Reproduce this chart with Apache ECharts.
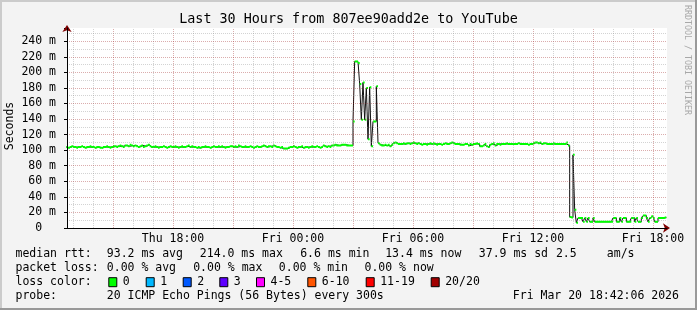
<!DOCTYPE html>
<html><head><meta charset="utf-8">
<script src="https://cdn.jsdelivr.net/npm/echarts@6/dist/echarts.min.js"></script>
<style>html,body{margin:0;padding:0;background:#f3f3f3}#c{width:697px;height:310px}</style>
</head><body><div id="c"></div>
<script>
// ---------------- data ----------------
const chartTitle = 'Last 30 Hours from 807ee90add2e to YouTube';
const yAxisTitle = 'Seconds';
const watermark = 'RRDTOOL / TOBI OETIKER';
const dayNames = ['Thu', 'Fri'];
const xLabelHours = [18, 24, 30, 36, 42];        // hours since Thu 00:00
const axisStartHour = 12.7, axisEndHour = 42.7;  // Thu 12:42 .. Fri 18:42
const firstSampleHour = 12.75;                    // end of first 5-min sample
const stepMinutes = 5;
const yMin = 0, yMax = 257, yStep = 10, yLabelStep = 20;

// median RTT in ms, one value per 5-minute step
const medianRtt = [
 104,103,104,105,104,104,103,104,104,105,
 104,103,104,104,105,104,104,103,104,104,
 103,103,104,104,105,104,103,104,105,105,
 104,105,106,105,104,106,106,105,107,106,
 105,106,105,104,105,106,104,105,106,107,
 105,104,104,105,104,103,104,104,105,104,
 103,104,105,104,104,105,104,103,104,105,
 104,104,105,106,104,105,104,104,103,104,
 103,104,104,105,104,104,103,104,105,104,
 104,105,104,105,104,103,104,104,105,105,
 104,105,104,106,105,104,104,105,104,104,
 105,104,103,104,105,104,104,105,106,105,
 104,105,105,104,106,105,104,104,103,104,
 102,102,102,103,104,104,105,104,103,104,
 104,105,103,104,104,103,104,105,104,104,
 105,104,103,104,106,105,104,105,104,106,
 106,107,106,106,106,107,107,107,106,106,
 106,106,
 137,214,214,212,185,139,187,139,180,114,181,105,137,137,182,109,
 107,106,106,107,106,107,105,107,109,110,
 109,108,108,108,109,108,109,109,108,109,
 110,109,108,109,108,107,108,108,107,108,
 109,108,109,108,107,108,108,107,108,109,
 108,108,109,110,109,108,108,108,107,107,
 107,108,108,106,108,107,108,108,109,108,
 105,105,106,108,105,104,107,108,109,106,
 108,108,107,108,108,108,109,108,108,108,
 108,108,108,109,108,108,108,108,108,107,
 108,108,109,110,110,109,110,108,109,109,
 108,108,108,108,109,108,108,108,108,108,
 108,108,110,106,
 14,13.6,94,23.5,6.6,
 13,13,13,8,13,8,13,8,8,13,
 8,8,8,8,8,8,8,8,8,8,
 8,13,13,8,8,13,8,13,13,8,
 8,8,13,13,8,13,8,8,13,16,
 16,13,8,13,15,13,8,8,13,13,
 13,13,13.4
];

const rttLabel = 'median rtt:';
const rttStats = ['93.2 ms avg', '214.0 ms max', '6.6 ms min', '13.4 ms now', '37.9 ms sd', '2.5', 'am/s'];
const lossLabel = 'packet loss:';
const lossStats = ['0.00 % avg', '0.00 % max', '0.00 % min', '0.00 % now'];
const lossColorLabel = 'loss color:';
const lossClasses = ['0', '1', '2', '3', '4-5', '6-10', '11-19', '20/20'];
const lossColors = ['#00ff00', '#00b8ff', '#0059ff', '#5e00ff', '#ff00ff', '#ff5500', '#ff0000', '#a10000'];
const probeLabel = 'probe:';
const probeText = '20 ICMP Echo Pings (56 Bytes) every 300s';
const stampText = 'Fri Mar 20 18:42:06 2026';

// ---------------- layout / style ----------------
const MONO = '"DejaVu Sans Mono", monospace';
const FONT = '11.5px ' + MONO;
const GRID_GREY = 'rgba(140,140,140,0.38)';
const GRID_RED = 'rgba(160,40,40,0.38)';
const ARROW = '#7f0000';

const stepH = stepMinutes / 60;
const blackPts = [], greenPts = [];
medianRtt.forEach((v, i) => {
  const t1 = firstSampleHour + i * stepH, t0 = t1 - stepH;
  blackPts.push([t0, v], [t1, v]);
  greenPts.push([t0, v], [t1, v], [t1, '-']);
});
const minorV = [], majorV = [];
for (let h = Math.ceil(axisStartHour); h <= axisEndHour; h++) {
  (h % 3 === 0 ? majorV : minorV).push({ xAxis: h });
}
const hourLabel = h => dayNames[Math.floor(h / 24)] + ' ' + String(h % 24).padStart(2, '0') + ':00';

function txt(x, y, text, extra) {
  return { type: 'text', x: x, y: y, silent: true, z: 50,
    style: Object.assign({ text: text, font: FONT, fill: '#000', align: 'left', verticalAlign: 'middle' }, extra || {}) };
}
const graphics = [];
// frame
graphics.push({ type: 'rect', silent: true, z: 60, shape: { x: 0, y: 0, width: 697, height: 2 }, style: { fill: '#cbcbcb' } });
graphics.push({ type: 'rect', silent: true, z: 60, shape: { x: 0, y: 0, width: 2, height: 310 }, style: { fill: '#cbcbcb' } });
graphics.push({ type: 'rect', silent: true, z: 61, shape: { x: 0, y: 308, width: 697, height: 2 }, style: { fill: '#999999' } });
graphics.push({ type: 'rect', silent: true, z: 61, shape: { x: 695, y: 0, width: 2, height: 310 }, style: { fill: '#999999' } });
// title, axis title & watermark
graphics.push(txt(348.5, 20, chartTitle, { font: '13.4px ' + MONO, align: 'center' }));
graphics.push(Object.assign(txt(10.5, 126, yAxisTitle, { align: 'center' }), { rotation: Math.PI / 2 }));
graphics.push(Object.assign(txt(687, 60, watermark, { font: '8.3px ' + MONO, fill: '#a8a8a8', align: 'center' }), { rotation: -Math.PI / 2 }));
// legend rows
const rowY = [254.3, 268.3, 282.2, 295.8];
const rttX = [106.8, 199.8, 300.2, 385.2, 478.8, 555.9, 606.8];
const lossX = [106.8, 193.2, 278.8, 364.5];
const boxX = [108.3, 145.7, 182.7, 219.3, 256, 307.3, 365.7, 430.7];
graphics.push(txt(15.5, rowY[0], rttLabel));
rttStats.forEach((s, i) => graphics.push(txt(rttX[i], rowY[0], s)));
graphics.push(txt(15.5, rowY[1], lossLabel));
lossStats.forEach((s, i) => graphics.push(txt(lossX[i], rowY[1], s)));
graphics.push(txt(15.5, rowY[2], lossColorLabel));
lossClasses.forEach((s, i) => {
  graphics.push({ type: 'rect', silent: true, z: 50, shape: { x: boxX[i] + 0.5, y: rowY[2] - 4.5, width: 8, height: 9 },
    style: { fill: lossColors[i], stroke: '#000', lineWidth: 1 } });
  graphics.push(txt(boxX[i] + 14.5, rowY[2], s));
});
graphics.push(txt(15.5, rowY[3], probeLabel));
graphics.push(txt(106.8, rowY[3], probeText));
graphics.push(txt(512.8, rowY[3], stampText));

const markLineBase = { silent: true, symbol: ['none', 'none'], label: { show: false }, emphasis: { disabled: true }, animation: false };

const option = {
  backgroundColor: '#f3f3f3',
  animation: false,
  grid: { left: 67, top: 28, width: 600, height: 200, show: true, backgroundColor: '#ffffff', borderWidth: 0,
          containLabel: false, outerBoundsMode: 'none' },
  xAxis: [
    { type: 'value', min: axisStartHour, max: axisEndHour, z: 6,
      axisLine: { show: true, onZero: false, lineStyle: { color: '#000', width: 1 } },
      axisTick: { show: false }, splitLine: { show: false },
      axisLabel: { customValues: xLabelHours, formatter: hourLabel, margin: 5, color: '#000', fontFamily: MONO, fontSize: 11.5 } },
    { type: 'value', min: axisStartHour, max: axisEndHour, position: 'bottom', z: 5,
      axisLine: { show: true, onZero: false, symbol: ['none', 'arrow'], symbolSize: [7, 7], symbolOffset: [0, 3], lineStyle: { color: ARROW, width: 1 } },
      axisTick: { show: false }, splitLine: { show: false }, axisLabel: { show: false } }
  ],
  yAxis: [
    { type: 'value', min: yMin, max: yMax, interval: yStep, z: 6,
      axisLine: { show: true, onZero: false, lineStyle: { color: '#000', width: 1 } },
      axisTick: { show: false },
      axisLabel: { margin: 11, showMaxLabel: false, color: '#000', fontFamily: MONO, fontSize: 11.5,
        formatter: v => (v % yLabelStep !== 0) ? '' : (v === 0 ? '0  ' : v + ' m') },
      splitLine: { show: true, showMaxLine: false, lineStyle: { color: [GRID_RED, GRID_GREY], width: 1, type: [1, 1] } } },
    { type: 'value', min: yMin, max: yMax, interval: yLabelStep, position: 'left', z: 5,
      axisLine: { show: true, onZero: false, symbol: ['none', 'arrow'], symbolSize: [7, 7], symbolOffset: [0, 3], lineStyle: { color: ARROW, width: 1 } },
      axisTick: { show: true, length: 3, lineStyle: { color: '#000' } },
      splitLine: { show: false }, axisLabel: { show: false } }
  ],
  graphic: { elements: graphics },
  series: [
    { type: 'line', data: [], z: 1, silent: true,
      markLine: Object.assign({}, markLineBase, { lineStyle: { color: GRID_GREY, width: 1, type: [1, 1] }, data: minorV }) },
    { type: 'line', data: [], z: 1, silent: true,
      markLine: Object.assign({}, markLineBase, { lineStyle: { color: GRID_RED, width: 1, type: [1, 1] }, data: majorV }) },
    { type: 'line', data: blackPts, z: 3, silent: true, showSymbol: false, symbol: 'none',
      lineStyle: { color: '#111', width: 1 } },
    { type: 'line', data: greenPts, z: 4, silent: true, showSymbol: false, symbol: 'none', connectNulls: false,
      lineStyle: { color: lossColors[0], width: 2 } }
  ]
};
const chart = echarts.init(document.getElementById('c'), null, { renderer: 'canvas' });
chart.setOption(option);
</script>
</body></html>
